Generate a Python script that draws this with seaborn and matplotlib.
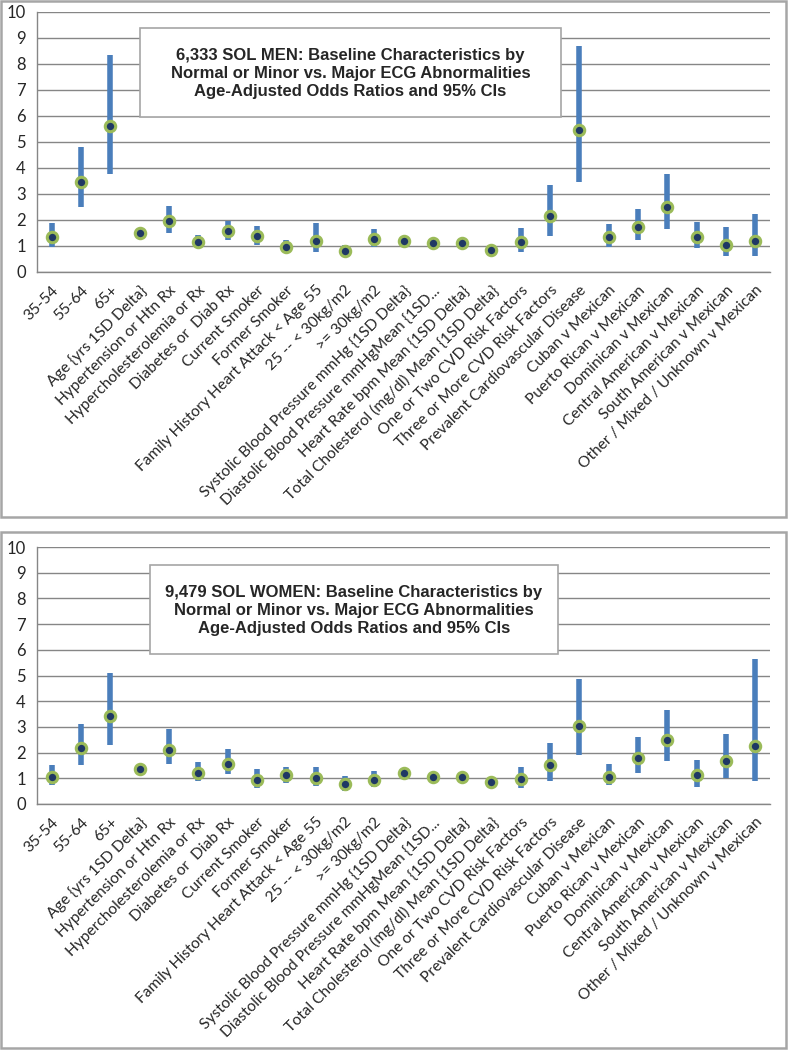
"""
SOL men / women: baseline characteristics vs major ECG abnormalities (age-adjusted ORs)
"""

import numpy as np
import pandas as pd
import matplotlib
matplotlib.use("Agg")
import matplotlib.pyplot as plt
from matplotlib.patches import Rectangle
from matplotlib.ticker import FixedLocator
import seaborn as sns

categories = [
    "35-54", "55-64", "65+", "Age {yrs 1SD Delta}", "Hypertension or Htn Rx",
    "Hypercholesterolemia or Rx", "Diabetes or  Diab Rx", "Current Smoker",
    "Former Smoker", "Family History Heart Attack < Age 55", "25 -- < 30kg/m2",
    ">= 30kg/m2", "Systolic Blood Pressure mmHg {1SD Delta}",
    "Diastolic Blood Pressure mmHgMean {1SD...", "Heart Rate bpm Mean {1SD Delta}",
    "Total Cholesterol (mg/dl) Mean {1SD Delta}", "One or Two CVD Risk Factors",
    "Three or More CVD Risk Factors", "Prevalent Cardiovascular Disease",
    "Cuban v Mexican", "Puerto Rican v Mexican", "Dominican v Mexican",
    "Central American v Mexican", "South American v Mexican",
    "Other / Mixed / Unknown v Mexican",
]

# men
men_or = [1.33, 3.46, 5.60, 1.50, 1.95, 1.15, 1.56, 1.37, 0.95, 1.20, 0.79, 1.25, 1.19,
          1.10, 1.10, 0.86, 1.16, 2.16, 5.48, 1.36, 1.73, 2.51, 1.33, 1.05, 1.21]
men_lo = [0.97, 2.50, 3.75, 1.43, 1.50, 0.91, 1.24, 1.05, 0.73, 0.77, 0.59, 0.95, 1.13,
          1.04, 1.04, 0.81, 0.77, 1.39, 3.46, 0.98, 1.24, 1.66, 0.91, 0.63, 0.63]
men_hi = [1.88, 4.79, 8.35, 1.58, 2.54, 1.42, 1.97, 1.78, 1.24, 1.88, 1.04, 1.65, 1.25,
          1.16, 1.16, 0.92, 1.69, 3.35, 8.71, 1.84, 2.42, 3.78, 1.94, 1.74, 2.24]

# women
women_or = [1.07, 2.17, 3.43, 1.37, 2.11, 1.22, 1.57, 0.93, 1.11, 1.02, 0.76, 0.92, 1.20,
            1.05, 1.07, 0.87, 0.96, 1.50, 3.03, 1.07, 1.79, 2.50, 1.11, 1.69, 2.26]
women_lo = [0.74, 1.51, 2.30, 1.31, 1.54, 0.91, 1.16, 0.62, 0.83, 0.70, 0.52, 0.65, 1.14,
            1.00, 1.01, 0.82, 0.62, 0.91, 1.89, 0.72, 1.22, 1.69, 0.66, 1.03, 0.91]
women_hi = [1.53, 3.10, 5.10, 1.44, 2.90, 1.62, 2.15, 1.38, 1.45, 1.45, 1.09, 1.28, 1.26,
            1.10, 1.13, 0.92, 1.45, 2.38, 4.85, 1.54, 2.59, 3.64, 1.72, 2.73, 5.64]

titles = [
    "6,333 SOL MEN: Baseline Characteristics by\nNormal or Minor vs. Major ECG Abnormalities\nAge-Adjusted Odds Ratios and 95% CIs",
    "9,479 SOL WOMEN: Baseline Characteristics by\nNormal or Minor vs. Major ECG Abnormalities\nAge-Adjusted Odds Ratios and 95% CIs",
]

W, H = 788, 1050
GRID = "#868686"


def fx(px):
    return px / W


def fy(py):
    return 1 - py / H


def draw_panel(fig, ax, df, title, box, frame):
    # panel frame
    fig.add_artist(Rectangle((fx(frame[0]), fy(frame[3])), fx(frame[2] - frame[0]),
                             (frame[3] - frame[1]) / H, transform=fig.transFigure,
                             fill=False, edgecolor="#A6A6A6", linewidth=1.8, zorder=0))
    ax.set_facecolor("white")
    ax.set_axisbelow(True)
    ax.yaxis.grid(True, color=GRID, linewidth=1.0)

    pos = np.arange(len(df))
    ax.vlines(pos, df["lo"], df["hi"], color="#4A7EBB", linewidth=4.0, zorder=2)
    sns.pointplot(data=df, x="label", y="or", order=list(df["label"]),
                  linestyle="none", marker="o", color="#1F3864",
                  markersize=7.5, markeredgecolor="#9BBB59", markeredgewidth=2.2,
                  errorbar=None, ax=ax, zorder=3)

    ax.set_xlim(-0.5, len(df) - 0.5)
    ax.set_ylim(0, 10)
    ax.set_yticks(range(0, 11))
    ax.set_xlabel("")
    ax.set_ylabel("")
    for s in ["top", "right"]:
        ax.spines[s].set_visible(False)
    for s in ["left", "bottom"]:
        ax.spines[s].set_color(GRID)
        ax.spines[s].set_linewidth(1.0)
    ax.tick_params(axis="y", length=5, color=GRID, labelsize=12, pad=3)
    ax.tick_params(axis="x", which="major", length=0, labelsize=11.2, pad=8)
    ax.xaxis.set_minor_locator(FixedLocator(np.arange(-0.5, len(df), 1.0)))
    ax.tick_params(axis="x", which="minor", length=5, color=GRID)
    ax.set_xticks(pos)
    ax.set_xticklabels(df["label"], rotation=45, ha="right", rotation_mode="anchor")

    # title box
    x0, y0, x1, y1 = box
    fig.add_artist(Rectangle((fx(x0), fy(y1)), fx(x1 - x0), (y1 - y0) / H,
                             transform=fig.transFigure, facecolor="white",
                             edgecolor="#A6A6A6", linewidth=1.2, zorder=5))
    fig.text(fx((x0 + x1) / 2), fy((y0 + y1) / 2 + 1), title, ha="center", va="center",
             fontsize=12, fontweight="bold", family="Liberation Sans",
             linespacing=1.27, zorder=6)


sns.set_style("white")
plt.rcParams["font.family"] = ["Lato", "DejaVu Sans"]

fig = plt.figure(figsize=(W / 100, H / 100), dpi=100)

men = pd.DataFrame({"label": categories, "or": men_or, "lo": men_lo, "hi": men_hi})
women = pd.DataFrame({"label": categories, "or": women_or, "lo": women_lo, "hi": women_hi})

ax1 = fig.add_axes([fx(37), fy(272), fx(770 - 37), (272 - 12) / H])
draw_panel(fig, ax1, men, titles[0], (140, 28, 561, 117), (1, 1, 786, 517))

ax2 = fig.add_axes([fx(37), fy(804), fx(770 - 37), (804 - 547) / H])
draw_panel(fig, ax2, women, titles[1], (150, 565, 558, 654), (1, 532, 786, 1048))

fig.savefig("out.png", dpi=100)
